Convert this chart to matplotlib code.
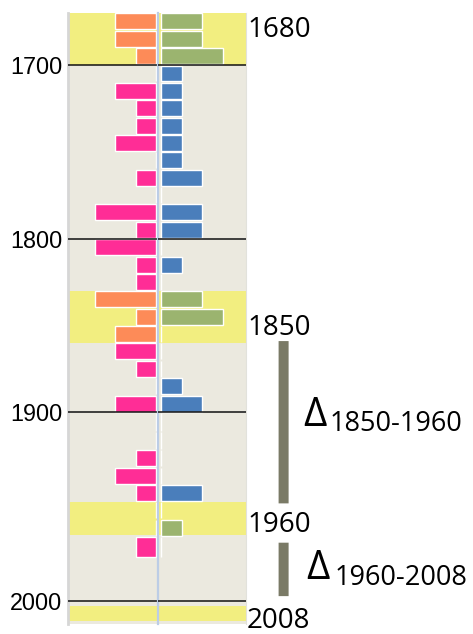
import numpy as np
import matplotlib.pyplot as plt

# decade rows (bar drawn from the decade start), counts per side
decades = np.arange(1670, 1980, 10)
left_counts = [2, 2, 1, 0, 2, 1, 1, 2, 0, 1, 0, 3, 1, 3, 1, 1, 3, 1, 2, 2, 1, 0,
               2, 0, 0, 1, 2, 1, 0, 0, 1]
right_counts = [2, 2, 3, 1, 1, 1, 1, 1, 1, 2, 0, 2, 2, 0, 1, 0, 2, 3, 0, 0, 0, 1,
                2, 0, 0, 0, 0, 2, 0, 1, 0]

epochs = [1680, 1850, 1960, 2008]
bands = [(1670, 1700), (1830, 1860), (1950, 1969), (2003, 2012)]
tick_years = [1700, 1800, 1900, 2000]
intervals = [(1850, 1960), (1960, 2008)]
interval_labels = ["1850-1960", "1960-2008"]

# the source picture is stretched a bit below 1900
anchor_real = [1600, 1900, 1915, 1970, 2000, 2100]
anchor_vis = [1600, 1900, 1916.5, 1971.5, 2008.4, 2108.4]


def fwd(y):
    return np.interp(y, anchor_real, anchor_vis)


def inv(y):
    return np.interp(y, anchor_vis, anchor_real)


pink, orange = "#ff2d96", "#fd8b58"
blue, green = "#4a7ebb", "#9bb46f"
yellow = "#f2ee80"
bg = "#ebe9df"

in_band = np.array([any(a <= d < b for a, b in bands) for d in decades])
left_colors = np.where(in_band, orange, pink)
right_colors = np.where(in_band, green, blue)

W, H = 473, 634
fig = plt.figure(figsize=(W / 100, H / 100), dpi=100)
x0, xm, x1 = 67.7 / W, 158.3 / W, 245.6 / W
y0, y1 = 1 - 624 / H, 1 - 12.7 / H
axl = fig.add_axes([x0, y0, xm - x0, y1 - y0])
axr = fig.add_axes([xm, y0, x1 - xm, y1 - y0], sharey=axl)

for ax in (axl, axr):
    ax.set_yscale("function", functions=(fwd, inv))
    ax.set_facecolor(bg)
    for a, b in bands:
        ax.axhspan(a, b, color=yellow, lw=0, zorder=1)
    for t in tick_years:
        ax.axhline(t, color="#111111", lw=1.1, zorder=4)
    ax.set_xticks([])
    for s in ax.spines.values():
        s.set_visible(False)

axl.barh(decades + 0.4, left_counts, height=9.2, align="edge",
         color=left_colors, edgecolor="white", lw=1, zorder=3)
axr.barh(decades + 0.4, right_counts, height=9.2, align="edge",
         color=right_colors, edgecolor="white", lw=1, zorder=3)

axl.set_xlim(4.34, -0.1)
axr.set_xlim(-0.13, 4.11)
axl.set_ylim(2013.5, 1670)

axl.spines["left"].set_visible(True)
axl.spines["left"].set_color("#d6d6d6")
axl.spines["left"].set_linewidth(2)
axl.spines["right"].set_visible(True)
axl.spines["right"].set_color("#d0d0d0")
axl.spines["right"].set_linewidth(1.2)
axr.spines["left"].set_visible(True)
axr.spines["left"].set_color("#bccde6")
axr.spines["left"].set_linewidth(1.6)
axr.spines["left"].set_linestyle((0, (2, 1)))
axr.spines["right"].set_visible(True)
axr.spines["right"].set_color("#e2e2dc")

axl.set_yticks(tick_years)
axl.set_yticklabels([str(t) for t in tick_years], family="Liberation Sans")
axl.tick_params(axis="y", length=0, pad=4, labelsize=16.8)
axr.tick_params(axis="y", left=False, labelleft=False)

ann_font = ["Open Sans", "DejaVu Sans"]
label_dy = [0, -2, -4, -4.5]
for e, dy in zip(epochs, label_dy):
    axr.annotate(str(e), xy=(1.0, e), xycoords=("axes fraction", "data"),
                 xytext=(1, dy), textcoords="offset points", ha="left",
                 va="center", fontsize=20, family=ann_font, zorder=5,
                 annotation_clip=False)

shrinks = [(11.3, 11.3), (17, 13.2)]
for (a, b), (sa, sb) in zip(intervals, shrinks):
    axr.annotate("", xy=(283.6 / W, b), xycoords=("figure fraction", "data"),
                 xytext=(283.6 / W, a), textcoords=("figure fraction", "data"),
                 arrowprops=dict(arrowstyle="-", lw=7.2, color="#7a7a66",
                                 shrinkA=sa, shrinkB=sb, capstyle="butt"),
                 annotation_clip=False)

delta_pos = [(303.3, 426, 330, 431), (306.7, 579.3, 334.3, 585)]
for lab, (dx, dy, sx, sy) in zip(interval_labels, delta_pos):
    fig.text(dx / W, 1 - dy / H, "\u0394", fontsize=29, family=ann_font,
             va="baseline", ha="left")
    fig.text(sx / W, 1 - sy / H, lab, fontsize=19.5, family=ann_font,
             va="baseline", ha="left")

fig.savefig("out.png", dpi=100)
